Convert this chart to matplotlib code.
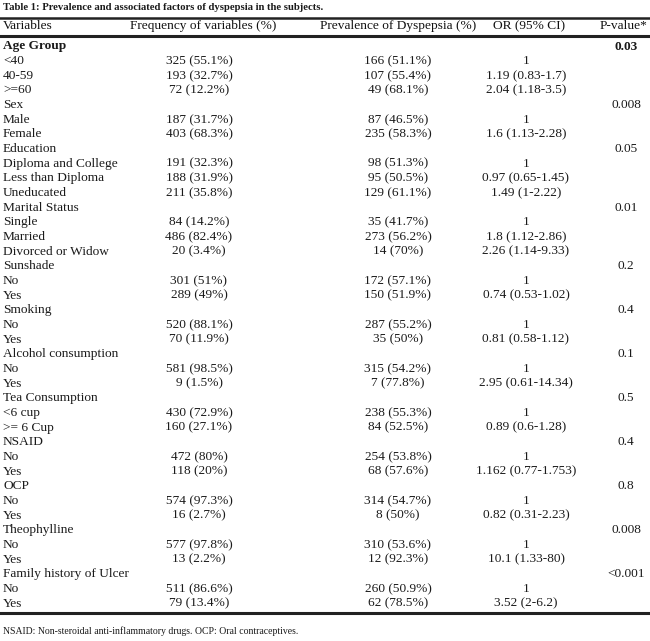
import matplotlib.pyplot as plt

plt.rcParams['font.family'] = ['Liberation Serif', 'DejaVu Serif']

title = "Table 1: Prevalence and associated factors of dyspepsia in the subjects."
headers = ["Variables", "Frequency of variables (%)", "Prevalence of Dyspepsia (%)",
           "OR (95% CI)", "P-value*"]

variables = ["Age Group", "<40", "40-59", ">=60",
             "Sex", "Male", "Female",
             "Education", "Diploma and College", "Less than Diploma", "Uneducated",
             "Marital Status", "Single", "Married", "Divorced or Widow",
             "Sunshade", "No", "Yes",
             "Smoking", "No", "Yes",
             "Alcohol consumption", "No", "Yes",
             "Tea Consumption", "<6 cup", ">= 6 Cup",
             "NSAID", "No", "Yes",
             "OCP", "No", "Yes",
             "Theophylline", "No", "Yes",
             "Family history of Ulcer", "No", "Yes"]

frequency = ["", "325 (55.1%)", "193 (32.7%)", "72 (12.2%)",
             "", "187 (31.7%)", "403 (68.3%)",
             "", "191 (32.3%)", "188 (31.9%)", "211 (35.8%)",
             "", "84 (14.2%)", "486 (82.4%)", "20 (3.4%)",
             "", "301 (51%)", "289 (49%)",
             "", "520 (88.1%)", "70 (11.9%)",
             "", "581 (98.5%)", "9 (1.5%)",
             "", "430 (72.9%)", "160 (27.1%)",
             "", "472 (80%)", "118 (20%)",
             "", "574 (97.3%)", "16 (2.7%)",
             "", "577 (97.8%)", "13 (2.2%)",
             "", "511 (86.6%)", "79 (13.4%)"]

prevalence = ["", "166 (51.1%)", "107 (55.4%)", "49 (68.1%)",
              "", "87 (46.5%)", "235 (58.3%)",
              "", "98 (51.3%)", "95 (50.5%)", "129 (61.1%)",
              "", "35 (41.7%)", "273 (56.2%)", "14 (70%)",
              "", "172 (57.1%)", "150 (51.9%)",
              "", "287 (55.2%)", "35 (50%)",
              "", "315 (54.2%)", "7 (77.8%)",
              "", "238 (55.3%)", "84 (52.5%)",
              "", "254 (53.8%)", "68 (57.6%)",
              "", "314 (54.7%)", "8 (50%)",
              "", "310 (53.6%)", "12 (92.3%)",
              "", "260 (50.9%)", "62 (78.5%)"]

odds_ratio = ["", "1", "1.19 (0.83-1.7)", "2.04 (1.18-3.5)",
              "", "1", "1.6 (1.13-2.28)",
              "", "1", "0.97 (0.65-1.45)", "1.49 (1-2.22)",
              "", "1", "1.8 (1.12-2.86)", "2.26 (1.14-9.33)",
              "", "1", "0.74 (0.53-1.02)",
              "", "1", "0.81 (0.58-1.12)",
              "", "1", "2.95 (0.61-14.34)",
              "", "1", "0.89 (0.6-1.28)",
              "", "1", "1.162 (0.77-1.753)",
              "", "1", "0.82 (0.31-2.23)",
              "", "1", "10.1 (1.33-80)",
              "", "1", "3.52 (2-6.2)"]

p_values = ["0.03", "", "", "",
            "0.008", "", "",
            "0.05", "", "", "",
            "0.01", "", "", "",
            "0.2", "", "",
            "0.4", "", "",
            "0.1", "", "",
            "0.5", "", "",
            "0.4", "", "",
            "0.8", "", "",
            "0.008", "", "",
            "<0.001", "", ""]

footnote = "NSAID: Non-steroidal anti-inflammatory drugs. OCP: Oral contraceptives."

W, H = 650, 641
fig = plt.figure(figsize=(6.5, 6.41), dpi=100)
ax = fig.add_axes([0, 0, 1, 1])
ax.set_xlim(0, W)
ax.set_ylim(H, 0)
ax.axis('off')

fs = 9.6
tc = '#1a1a1a'
head_x = [3, 203, 398, 529, 624]
col_x = [3, 199, 398, 526, 626]
col_ha = ['left', 'center', 'center', 'center', 'center']

ax.text(3, 7, title, fontsize=7.7, fontweight='bold', va='center', ha='left', color=tc)
ax.plot([0, W], [17.5, 17.5], color='#222222', lw=1.8)
for x, ha, h in zip(head_x, col_ha, headers):
    ax.text(x, 26, h, fontsize=fs, va='center', ha=ha, color='#111111')
ax.plot([0, W], [35.5, 35.5], color='#222222', lw=2.2)

y0, dy = 46.5, 14.66
columns = [variables, frequency, prevalence, odds_ratio, p_values]
for i in range(len(variables)):
    y = y0 + i * dy
    bold = variables[i] == "Age Group"
    for x, ha, col in zip(col_x, col_ha, columns):
        if col[i]:
            ax.text(x, y, col[i], fontsize=fs, va='center', ha=ha, color=tc,
                    fontweight='bold' if bold else 'normal')

y_end = y0 + (len(variables) - 1) * dy + 9.5
ax.plot([0, W], [y_end, y_end], color='#222222', lw=2.2)
ax.text(3, 631, footnote, fontsize=7, va='center', ha='left', color=tc)

fig.savefig('out.png', dpi=100)
